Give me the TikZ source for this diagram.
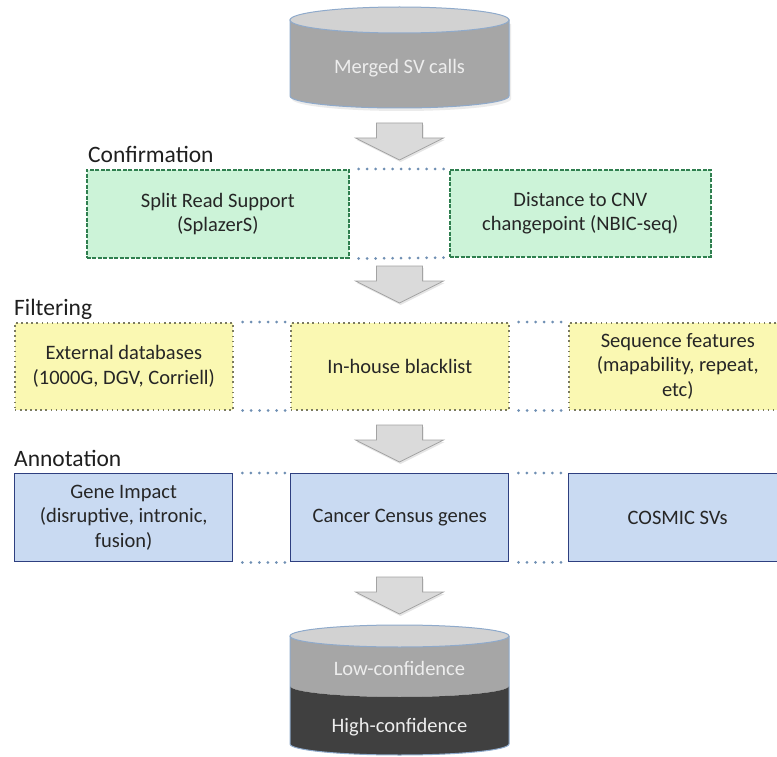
\documentclass[tikz,border=0pt]{standalone}
\usepackage{fontspec}
\setmainfont{Carlito}
\usetikzlibrary{shadows,calc}
\definecolor{txtgray}{HTML}{262626}
\definecolor{greenfill}{HTML}{CCF3D8}
\definecolor{greenline}{HTML}{2F7F4F}
\definecolor{yellowfill}{HTML}{FAF8B2}
\definecolor{yellowline}{HTML}{7A7A60}
\definecolor{bluefill}{HTML}{C9DAF2}
\definecolor{blueline}{HTML}{2E3F80}
\definecolor{dotblue}{HTML}{6F8FB3}
\definecolor{cylbody}{HTML}{A6A6A6}
\definecolor{cyltop}{HTML}{D2D2D2}
\definecolor{cylline}{HTML}{8FAACB}
\definecolor{cyldark}{HTML}{404040}
\definecolor{arrowfill}{HTML}{DADADA}
\definecolor{arrowline}{HTML}{A3A3A3}
\newcommand\bigarrow[2]{%
  \coordinate (#1) at (399.5,#2);
  \begin{scope}[shift={(#1)}]
    \draw[blockarrow] (-23,0) -- (23,0) -- (23,-15) -- (44,-15) -- (0,-37) -- (-44,-15) -- (-23,-15) -- cycle;
  \end{scope}}
\begin{document}
\begin{tikzpicture}[x=1pt,y=1pt,
  boxtext/.style={font=\fontsize{20.5}{24.4}\selectfont, text=txtgray, align=center, inner sep=0pt, anchor=north west, minimum width=218, minimum height=87},
  greenbox/.style={boxtext, draw=greenline, fill=greenfill, line width=1.6pt, dash pattern=on 4pt off 1.5pt},
  yellowbox/.style={boxtext, draw=yellowline, fill=yellowfill, line width=1.6pt, dash pattern=on 1.6pt off 3.5pt},
  bluebox/.style={boxtext, draw=blueline, fill=bluefill, line width=1.4pt},
  stagelabel/.style={font=\fontsize{23.5}{28}\selectfont, text=black!88, anchor=base west, inner sep=0pt},
  dotline/.style={draw=dotblue, line width=3pt, line cap=round, dash pattern=on 0pt off 8.5pt},
  blockarrow/.style={fill=arrowfill, draw=arrowline, line width=0.8pt, drop shadow={opacity=0.2, shadow xshift=1pt, shadow yshift=-2pt}},
  cyltext/.style={font=\fontsize{20.5}{24}\selectfont, text=white!93!black, inner sep=0pt}
]
\useasboundingbox (0,0) rectangle (777,-757);
\fill[white] (0,0) rectangle (777,-757);
\clip (0,0) rectangle (777,-757);

% top cylinder
\fill[black, opacity=0.08] (292,-24) -- (292,-99) arc[start angle=180,end angle=360,x radius=109.5,y radius=12] -- (511,-24) -- cycle;
\draw[fill=cylbody, draw=cylline, line width=1pt] (290,-20) -- (290,-96) arc[start angle=180,end angle=360,x radius=109.5,y radius=12] -- (509,-20) -- cycle;
\draw[fill=cyltop, draw=cylline, line width=1pt] (399.5,-20) ellipse[x radius=109.5, y radius=13];
\node[cyltext] (merged) at (399.5,-68) {Merged SV calls};

\bigarrow{a1}{-123}

% confirmation
\node[stagelabel] (conf) at (88,-163) {Confirmation};
\node[greenbox, minimum width=262, minimum height=88] (split) at (86,-169) {Split Read Support\\(SplazerS)};
\node[greenbox, minimum width=261, minimum height=87] (dist) at (449,-169) {Distance to CNV\\changepoint (NBIC-seq)};
\draw[dotline] ($(split.north east)+(9,0)$) -- ($(dist.north west)+(-4,0)$);
\draw[dotline] ($(split.south east)+(9,0)$) -- ($(dist.south west)+(-4,0)$);

\bigarrow{a2}{-266}

% filtering
\node[stagelabel] (filt) at (14,-315) {Filtering};
\node[yellowbox] (ext) at (14,-322) {External databases\\(1000G, DGV, Corriell)};
\node[yellowbox] (inh) at (290,-322) {In-house blacklist};
\node[yellowbox] (seq) at (568,-322) {Sequence features\\(mapability, repeat,\\etc)};
\draw[dotline] ($(ext.north east)+(9,0)$) -- ($(inh.north west)+(-4,0)$);
\draw[dotline] ($(ext.south east)+(9,0)$) -- ($(inh.south west)+(-4,0)$);
\draw[dotline] ($(inh.north east)+(9,0)$) -- ($(seq.north west)+(-4,0)$);
\draw[dotline] ($(inh.south east)+(9,0)$) -- ($(seq.south west)+(-4,0)$);

\bigarrow{a3}{-425}

% annotation
\node[stagelabel] (anno) at (14,-466) {Annotation};
\node[bluebox, minimum height=88] (gene) at (14,-473) {Gene Impact\\(disruptive, intronic,\\fusion)};
\node[bluebox, minimum height=88] (census) at (290,-473) {Cancer Census genes};
\node[bluebox, minimum height=88] (cosmic) at (568,-473) {COSMIC SVs};
\draw[dotline] ($(gene.north east)+(9,0)$) -- ($(census.north west)+(-4,0)$);
\draw[dotline] ($(gene.south east)+(9,0)$) -- ($(census.south west)+(-4,0)$);
\draw[dotline] ($(census.north east)+(9,0)$) -- ($(cosmic.north west)+(-4,0)$);
\draw[dotline] ($(census.south east)+(9,0)$) -- ($(cosmic.south west)+(-4,0)$);

\bigarrow{a4}{-577}

% bottom cylinder
\fill[cylbody] (290,-636) -- (290,-686) arc[start angle=180,end angle=360,x radius=109.5,y radius=11] -- (509,-636) -- cycle;
\fill[cyldark] (290,-686) arc[start angle=180,end angle=360,x radius=109.5,y radius=11] -- (509,-744) arc[start angle=0,end angle=-180,x radius=109.5,y radius=11] -- cycle;
\draw[draw=cylline, line width=1pt] (290,-636) -- (290,-744) arc[start angle=180,end angle=360,x radius=109.5,y radius=11] -- (509,-636);
\draw[fill=cyltop, draw=cylline, line width=1pt] (399.5,-636) ellipse[x radius=109.5, y radius=11];
\node[cyltext] (low) at (399.5,-668) {Low-confidence};
\node[cyltext] (high) at (399.5,-727) {High-confidence};
\end{tikzpicture}
\end{document}
